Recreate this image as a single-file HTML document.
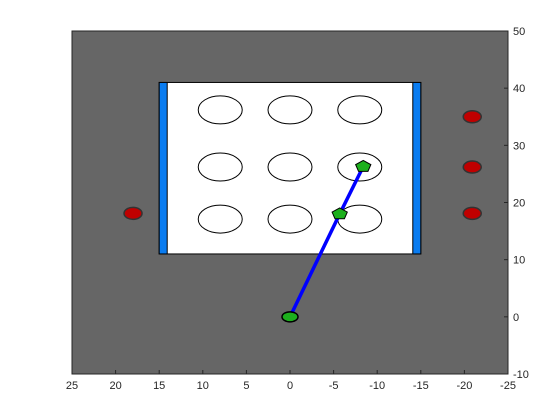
<!DOCTYPE html>
<html><head><meta charset="utf-8"><style>
body{margin:0;background:#fff;width:560px;height:420px;overflow:hidden}
svg{display:block;font-family:"Liberation Sans",sans-serif}
</style></head><body>
<svg id="c" width="560" height="420"></svg>
<script>
const xTicks=[25,20,15,10,5,0,-5,-10,-15,-20,-25];
const yTicks=[-10,0,10,20,30,40,50];
const holeX=[8,0,-8];
const holeY=[36.2,26.2,17.1];
const redX=[18,-20.9,-20.9,-20.9];
const redY=[18.1,35,26.2,18.1];
const pathX=[0,-5.7,-8.4];
const pathY=[0,18,26.3];
const L=72,R=508,T=31,B=374;
const sx=v=>L+(25-v)*(R-L)/50;
const sy=v=>T+(50-v)*(B-T)/60;
const NS="http://www.w3.org/2000/svg";
const svg=document.getElementById('c');
function mk(t,a,p){const e=document.createElementNS(NS,t);for(const k in a)e.setAttribute(k,a[k]);(p||svg).appendChild(e);return e;}
let e;
e=mk('rect',{x:L,y:T,width:R-L,height:B-T,fill:'#666666',stroke:'#262626','stroke-width':1});


e=mk('rect',{x:sx(15),y:sy(41),width:sx(-15)-sx(15),height:sy(11)-sy(41),fill:'#fff',stroke:'#000','stroke-width':1});


e=mk('rect',{x:sx(15),y:sy(41),width:8,height:sy(11)-sy(41),fill:'#0a7cf0',stroke:'#000','stroke-width':1});


e=mk('rect',{x:sx(-15)-8,y:sy(41),width:8,height:sy(11)-sy(41),fill:'#0a7cf0',stroke:'#000','stroke-width':1});


holeX.forEach(hx=>holeY.forEach(hy=>{
 const h=mk('ellipse',{cx:sx(hx),cy:sy(hy),rx:22,ry:14,fill:'#fff',stroke:'#000','stroke-width':1});
 
 
}));
redX.forEach((rx,i)=>{
 const m=mk('ellipse',{cx:sx(rx),cy:sy(redY[i]),rx:9,ry:6,fill:'#c00000',stroke:'#333','stroke-width':1.5});
 
 
});
e=mk('polyline',{points:pathX.map((x,i)=>sx(x)+','+sy(pathY[i])).join(' '),fill:'none',stroke:'#0000ff','stroke-width':3.5});


e=mk('ellipse',{cx:sx(pathX[0]),cy:sy(pathY[0]),rx:8,ry:5,fill:'#1db01d',stroke:'#000','stroke-width':1.5});


for(let i=1;i<pathX.length;i++){
 const cx=sx(pathX[i]),cy=sy(pathY[i]);let pts=[];
 for(let k=0;k<5;k++){const a=-Math.PI/2+k*2*Math.PI/5;pts.push((cx+8*Math.cos(a))+','+(cy+6*Math.sin(a)));}
 const p=mk('polygon',{points:pts.join(' '),fill:'#1db01d',stroke:'#000','stroke-width':1});
 
 
}
xTicks.forEach(v=>{
 mk('line',{x1:sx(v),x2:sx(v),y1:B,y2:B-4,stroke:'#262626'});
 const t=mk('text',{x:sx(v),y:B+15,'text-anchor':'middle','font-size':11,fill:'#262626'});t.textContent=v;
 
 
});
yTicks.forEach(v=>{
 mk('line',{x1:R,x2:R-4,y1:sy(v),y2:sy(v),stroke:'#262626'});
 const t=mk('text',{x:R+5,y:sy(v)+4,'font-size':11,fill:'#262626'});t.textContent=v;
 
 
});
</script>
</body></html>
